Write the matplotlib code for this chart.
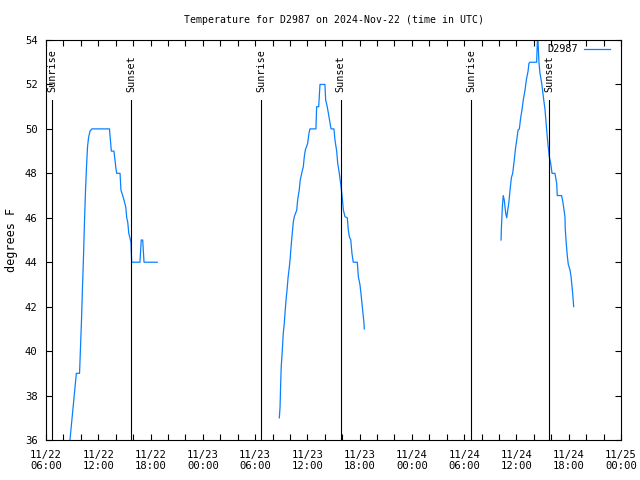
import numpy as np
import matplotlib
matplotlib.use("Agg")
import matplotlib.pyplot as plt
import matplotlib.dates as mdates

# ---- data ----
seg1_times = ["2024-11-22T08:45", "2024-11-22T09:29", "2024-11-22T09:51", "2024-11-22T10:04",
              "2024-11-22T10:11", "2024-11-22T10:18", "2024-11-22T10:25", "2024-11-22T10:32",
              "2024-11-22T10:39", "2024-11-22T10:46", "2024-11-22T10:53", "2024-11-22T11:03",
              "2024-11-22T11:17", "2024-11-22T13:17", "2024-11-22T13:30", "2024-11-22T13:48",
              "2024-11-22T14:02", "2024-11-22T14:07", "2024-11-22T14:30", "2024-11-22T14:36",
              "2024-11-22T14:48", "2024-11-22T14:57", "2024-11-22T15:09", "2024-11-22T15:16",
              "2024-11-22T15:23", "2024-11-22T15:30", "2024-11-22T15:38", "2024-11-22T15:45",
              "2024-11-22T15:50", "2024-11-22T16:47", "2024-11-22T16:56", "2024-11-22T17:06",
              "2024-11-22T17:15", "2024-11-22T18:46"]
seg1_temps = [36, 39, 39, 41.3, 42.8, 44.2, 45.8, 47.2, 48.3, 49.2, 49.6, 49.9,
              50, 50, 49, 49, 48.2, 48, 48, 47.25, 47, 46.8, 46.5, 46, 45.8, 45.3,
              45.1, 44.9, 44, 44, 45, 45, 44, 44]

seg2_times = ["2024-11-23T08:47", "2024-11-23T08:52", "2024-11-23T08:56", "2024-11-23T09:00",
              "2024-11-23T09:07", "2024-11-23T09:14", "2024-11-23T09:21", "2024-11-23T09:26",
              "2024-11-23T09:33", "2024-11-23T09:40", "2024-11-23T09:47", "2024-11-23T09:56",
              "2024-11-23T10:02", "2024-11-23T10:09", "2024-11-23T10:16", "2024-11-23T10:23",
              "2024-11-23T10:30", "2024-11-23T10:47", "2024-11-23T10:53", "2024-11-23T11:04",
              "2024-11-23T11:11", "2024-11-23T11:21", "2024-11-23T11:32", "2024-11-23T11:39",
              "2024-11-23T11:46", "2024-11-23T12:02", "2024-11-23T12:11", "2024-11-23T12:18",
              "2024-11-23T12:59", "2024-11-23T13:04", "2024-11-23T13:18", "2024-11-23T13:27",
              "2024-11-23T14:01", "2024-11-23T14:06", "2024-11-23T14:17", "2024-11-23T14:43",
              "2024-11-23T15:03", "2024-11-23T15:10", "2024-11-23T15:22", "2024-11-23T15:29",
              "2024-11-23T15:40", "2024-11-23T15:50", "2024-11-23T15:59", "2024-11-23T16:08",
              "2024-11-23T16:19", "2024-11-23T16:35", "2024-11-23T16:42", "2024-11-23T16:49",
              "2024-11-23T16:59", "2024-11-23T17:07", "2024-11-23T17:16", "2024-11-23T17:44",
              "2024-11-23T17:51", "2024-11-23T18:02", "2024-11-23T18:09", "2024-11-23T18:16",
              "2024-11-23T18:23", "2024-11-23T18:30", "2024-11-23T18:32"]
seg2_temps = [37, 37.5, 38.5, 39.3, 40, 40.8, 41.25, 41.7, 42.3, 42.75, 43.3, 43.8,
              44.2, 44.8, 45.3, 45.8, 46.05, 46.35, 46.8, 47.25, 47.7, 48, 48.3, 48.75,
              49.05, 49.35, 49.8, 50, 50, 51, 51, 52, 52, 51.3, 51, 50, 50, 49.5, 49,
              48.45, 48, 47.5, 47, 46.35, 46.05, 46, 45.45, 45.15, 45, 44.4, 44, 44,
              43.35, 43, 42.6, 42.15, 41.7, 41.25, 41]

seg3_times = ["2024-11-24T10:14", "2024-11-24T10:16", "2024-11-24T10:23", "2024-11-24T10:29",
              "2024-11-24T10:36", "2024-11-24T10:46", "2024-11-24T10:53", "2024-11-24T11:00",
              "2024-11-24T11:07", "2024-11-24T11:16", "2024-11-24T11:25", "2024-11-24T11:34",
              "2024-11-24T11:45", "2024-11-24T11:52", "2024-11-24T12:02", "2024-11-24T12:11",
              "2024-11-24T12:20", "2024-11-24T12:29", "2024-11-24T12:38", "2024-11-24T12:47",
              "2024-11-24T12:59", "2024-11-24T13:08", "2024-11-24T13:20", "2024-11-24T13:26",
              "2024-11-24T13:33", "2024-11-24T14:19", "2024-11-24T14:26", "2024-11-24T14:35",
              "2024-11-24T14:42", "2024-11-24T14:54", "2024-11-24T15:05", "2024-11-24T15:17",
              "2024-11-24T15:28", "2024-11-24T15:37", "2024-11-24T15:46", "2024-11-24T15:56",
              "2024-11-24T16:05", "2024-11-24T16:25", "2024-11-24T16:37", "2024-11-24T16:41",
              "2024-11-24T17:11", "2024-11-24T17:20", "2024-11-24T17:34", "2024-11-24T17:36",
              "2024-11-24T17:43", "2024-11-24T17:50", "2024-11-24T17:57", "2024-11-24T18:09",
              "2024-11-24T18:16", "2024-11-24T18:25", "2024-11-24T18:32", "2024-11-24T18:34"]
seg3_temps = [45, 45.5, 46.5, 47, 46.8, 46.2, 46, 46.35, 46.65, 47.25, 47.8, 48,
              48.6, 49.05, 49.5, 49.95, 50, 50.5, 50.85, 51.3, 51.75, 52.2, 52.6, 52.95,
              53, 53, 54.3, 53, 52.5, 52.05, 51.45, 50.85, 49.95, 49.3, 48.75, 48.45,
              48, 48, 47.55, 47, 47, 46.7, 46.05, 45.5, 44.85, 44.3, 43.9, 43.65,
              43.35, 42.75, 42.2, 42]

sunrise_times = ["2024-11-22T06:43", "2024-11-23T06:44", "2024-11-24T06:47"]
sunset_times = ["2024-11-22T15:45", "2024-11-23T15:49", "2024-11-24T15:46"]

station = "D2987"
title = "Temperature for D2987 on 2024-Nov-22 (time in UTC)"
x_start = "2024-11-22T06:00"
x_end = "2024-11-25T00:00"
y_min, y_max = 36, 54

# ---- plotting ----
plt.rcParams['font.family'] = ['DejaVu Sans Mono']
fig = plt.figure(figsize=(6.4, 4.8), dpi=100)
ax = fig.add_axes([46/640, 40/480, 575/640, 400/480])

color = '#0a80ff'
def to_dt(lst):
    return np.array(lst, dtype='datetime64[m]').astype('datetime64[s]').astype(object)

segments = [(seg1_times, seg1_temps), (seg2_times, seg2_temps), (seg3_times, seg3_temps)]
for i, (t, v) in enumerate(segments):
    ax.plot(to_dt(t), v, color=color, lw=0.9, label=station if i == 0 else None)

xt = ax.get_xaxis_transform()
for t in to_dt(sunrise_times):
    ax.plot([t, t], [0, 0.85], color='black', lw=0.8, transform=xt)
    ax.text(t, 0.87, "Sunrise", rotation=90, ha='center', va='bottom', fontsize=7.3, transform=xt)
for t in to_dt(sunset_times):
    ax.plot([t, t], [0, 0.85], color='black', lw=0.8, transform=xt)
    ax.text(t, 0.87, "Sunset", rotation=90, ha='center', va='bottom', fontsize=7.3, transform=xt)

ax.set_xlim(to_dt([x_start])[0], to_dt([x_end])[0])
ax.set_ylim(y_min, y_max)
ax.set_yticks(np.arange(y_min, y_max + 1, 2))
ax.xaxis.set_major_locator(mdates.HourLocator(byhour=[0, 6, 12, 18]))
ax.xaxis.set_minor_locator(mdates.HourLocator(byhour=range(0, 24, 2)))
ax.xaxis.set_major_formatter(mdates.DateFormatter("%m/%d\n%H:%M"))
ax.tick_params(axis='both', which='both', direction='in', top=True, right=True,
               labelsize=7.6, width=0.8)
ax.tick_params(axis='x', pad=7)
ax.tick_params(axis='y', pad=6)
ax.tick_params(which='major', length=4)
ax.tick_params(which='minor', length=4)
for s in ax.spines.values():
    s.set_linewidth(0.8)

ax.set_title(title, fontsize=7.1, pad=12.5)
ax.set_ylabel("degrees F", fontsize=8.5, labelpad=5)
leg = ax.legend(loc='upper right', frameon=False, markerfirst=False, fontsize=7.4,
                handlelength=2.5, borderaxespad=0.0, handletextpad=0.6,
                bbox_to_anchor=(0.988, 1.0))

fig.savefig("out.png", dpi=100)
